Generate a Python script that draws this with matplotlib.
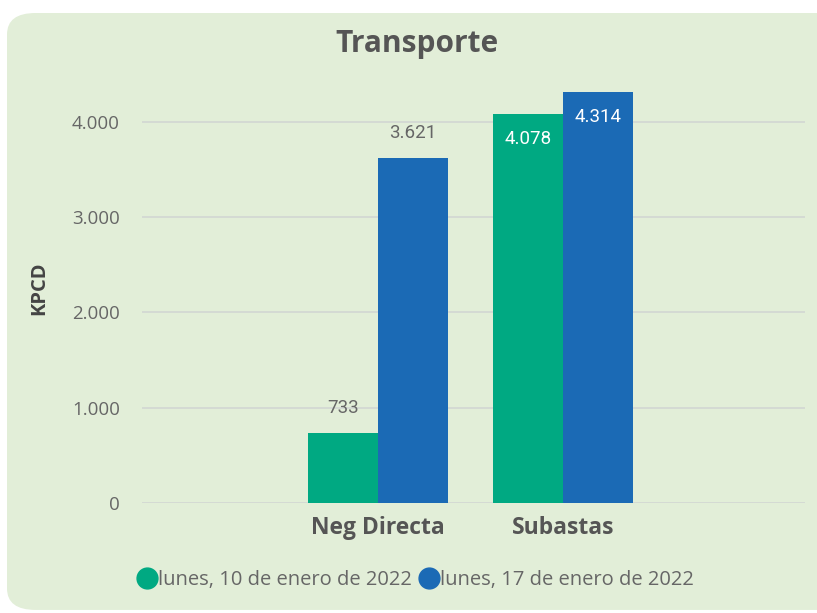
import numpy as np
import matplotlib.pyplot as plt
from matplotlib.patches import FancyBboxPatch
from matplotlib.lines import Line2D

# Data
categories = ["Neg Directa", "Subastas"]
series_names = ["lunes, 10 de enero de 2022", "lunes, 17 de enero de 2022"]
values_10 = [733, 4078]
values_17 = [3621, 4314]
yticks = [0, 1000, 2000, 3000, 4000]

green = "#00A982"
blue = "#1B6AB5"
gray = "#666666"
bg = "#E2EED8"

plt.rcParams['font.family'] = ['Open Sans', 'DejaVu Sans']

fig = plt.figure(figsize=(8.17, 6.13), dpi=100)
fig.patch.set_facecolor("white")

# rounded panel background
panel = FancyBboxPatch((7 / 817, 0.005), 1.2, 1 - 13 / 613 - 0.005,
                       boxstyle="round,pad=0,rounding_size=0.035",
                       transform=fig.transFigure, facecolor=bg,
                       edgecolor="none", zorder=-10)
fig.patches.append(panel)

ax = fig.add_axes([142 / 817, 1 - 503 / 613, (805 - 142) / 817, (503 - 74) / 613])
ax.set_facecolor("none")

x = np.arange(len(categories))
w = 0.38
b1 = ax.bar(x - w / 2, values_10, w, color=green, zorder=3)
b2 = ax.bar(x + w / 2, values_17, w, color=blue, zorder=3)

ax.set_xlim(-1.276, 2.31)
ax.set_ylim(0, 4500)
ax.set_yticks(yticks)
ax.set_yticklabels([f"{v:,}".replace(",", ".") for v in yticks])
ax.set_xticks(x)
ax.set_xticklabels(categories, fontweight="bold", fontsize=16.5, color="#555555")
ax.tick_params(axis="y", length=0, labelsize=13.5, labelcolor=gray, pad=16)
ax.tick_params(axis="x", length=0, pad=9)
ax.grid(axis="y", color="#D2D6D2", linewidth=1.2, zorder=0)
for s in ax.spines.values():
    s.set_visible(False)

ax.set_ylabel("KPCD", fontweight="bold", fontsize=14.5, color="#444444")
ax.yaxis.set_label_coords(-0.14, 0.5)

# data labels
label_font = dict(fontsize=13.5, family=['Roboto', 'DejaVu Sans'])
for bars, vals in ((b1, values_10), (b2, values_17)):
    for bar, v in zip(bars, vals):
        txt = f"{v:,}".replace(",", ".")
        cx = bar.get_x() + bar.get_width() / 2
        if v > 4000:
            ax.text(cx, v - 260, txt, ha="center", va="center", color="white", **label_font)
        else:
            ax.text(cx, v + 260, txt, ha="center", va="center", color=gray, **label_font)

fig.text(417 / 817, 1 - 44 / 613, "Transporte", ha="center", va="center",
         fontsize=21.5, fontweight="bold", color="#555555")

handles = [Line2D([], [], marker="o", linestyle="none", markersize=15, color=c)
           for c in (green, blue)]
fig.legend(handles, series_names, loc="center", bbox_to_anchor=(0.508, 1 - 580 / 613),
           ncol=2, frameon=False, fontsize=14.5, labelcolor=gray,
           handletextpad=0.0, columnspacing=0.3, handlelength=1.1)

fig.savefig("out.png", dpi=100)
